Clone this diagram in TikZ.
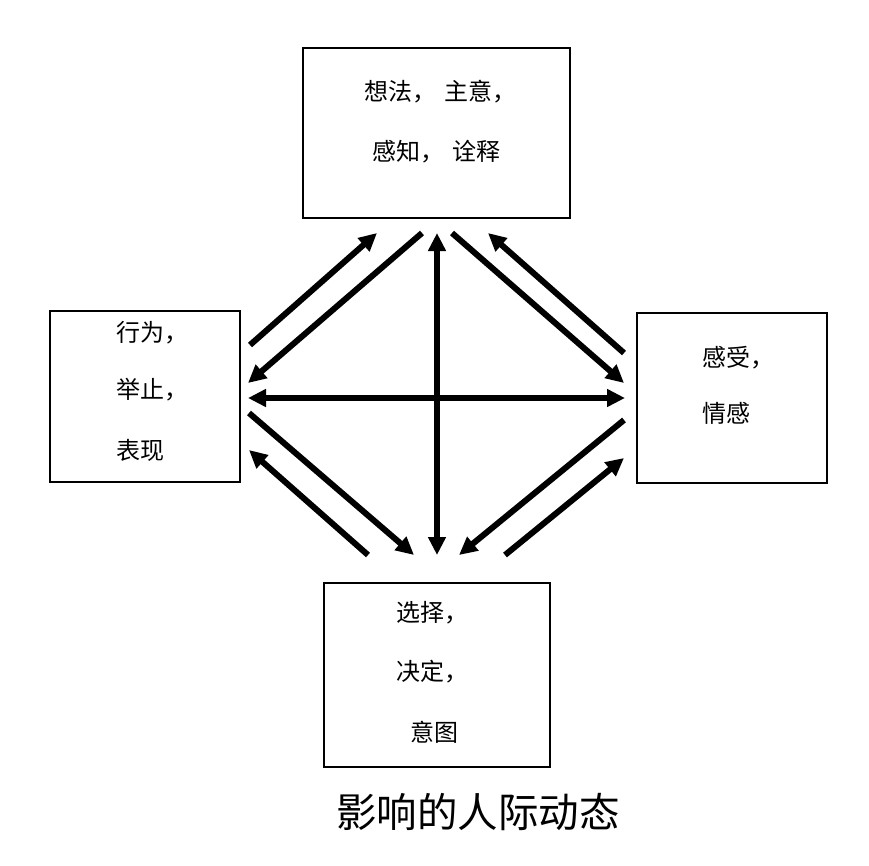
\documentclass[tikz,border=0pt]{standalone}
\usepackage{fontspec}
\newfontfamily\cjk{Noto Sans CJK SC}
\usetikzlibrary{arrows.meta}
\begin{document}
\begin{tikzpicture}[x=1pt,y=-1pt,
  boxnode/.style={draw=black,line width=2pt,inner sep=0pt,rectangle},
  lbl/.style={font=\cjk\fontsize{24}{29}\selectfont,inner sep=0pt,anchor=west},
  ttl/.style={font=\cjk\fontsize{40.5}{48}\selectfont,inner sep=0pt},
  arr/.style={line width=6pt,-{Triangle[length=18pt,width=17pt]}},
  darr/.style={line width=6pt,{Triangle[length=18pt,width=17pt]}-{Triangle[length=18pt,width=17pt]}}]
\useasboundingbox (0,0) rectangle (869,865);
% boxes
\node[boxnode,minimum width=267pt,minimum height=170pt] (top) at (436.5,132.5) {};
\node[boxnode,minimum width=190pt,minimum height=171pt] (left) at (145,396.5) {};
\node[boxnode,minimum width=190pt,minimum height=170pt] (right) at (732,398) {};
\node[boxnode,minimum width=226pt,minimum height=184pt] (bottom) at (437,675) {};
% texts
\node[lbl] (t1) at (364,92) {想法，\hspace{8pt}主意，};
\node[lbl] (t2) at (372,152) {感知，\hspace{8pt}诠释};
\node[lbl] (l1) at (116,333) {行为，};
\node[lbl] (l2) at (116,390) {举止，};
\node[lbl] (l3) at (116,450) {表现};
\node[lbl] (r1) at (702,358) {感受，};
\node[lbl] (r2) at (702,413) {情感};
\node[lbl] (b1) at (396,613) {选择，};
\node[lbl] (b2) at (396,672) {决定，};
\node[lbl] (b3) at (410,732) {意图};
\node[ttl] (title) at (478,812) {影响的人际动态};
% arrow end points
\coordinate (a1s) at (250,345); \coordinate (a1e) at (377,233);
\coordinate (a2s) at (422,233); \coordinate (a2e) at (248,383);
\coordinate (a3s) at (437,233); \coordinate (a3e) at (437,555);
\coordinate (a4s) at (248,398); \coordinate (a4e) at (625,398);
\coordinate (a5s) at (452,233); \coordinate (a5e) at (624,383);
\coordinate (a6s) at (624,353); \coordinate (a6e) at (488,233);
\coordinate (a7s) at (249,413); \coordinate (a7e) at (414,555);
\coordinate (a8s) at (368,555); \coordinate (a8e) at (249,450);
\coordinate (a9s) at (624,420); \coordinate (a9e) at (459,555);
\coordinate (a10s) at (505,555); \coordinate (a10e) at (624,458);
% arrows
\draw[arr] (a1s) -- (a1e);
\draw[arr] (a2s) -- (a2e);
\draw[darr] (a3s) -- (a3e);
\draw[darr] (a4s) -- (a4e);
\draw[arr] (a5s) -- (a5e);
\draw[arr] (a6s) -- (a6e);
\draw[arr] (a7s) -- (a7e);
\draw[arr] (a8s) -- (a8e);
\draw[arr] (a9s) -- (a9e);
\draw[arr] (a10s) -- (a10e);
\end{tikzpicture}
\end{document}
